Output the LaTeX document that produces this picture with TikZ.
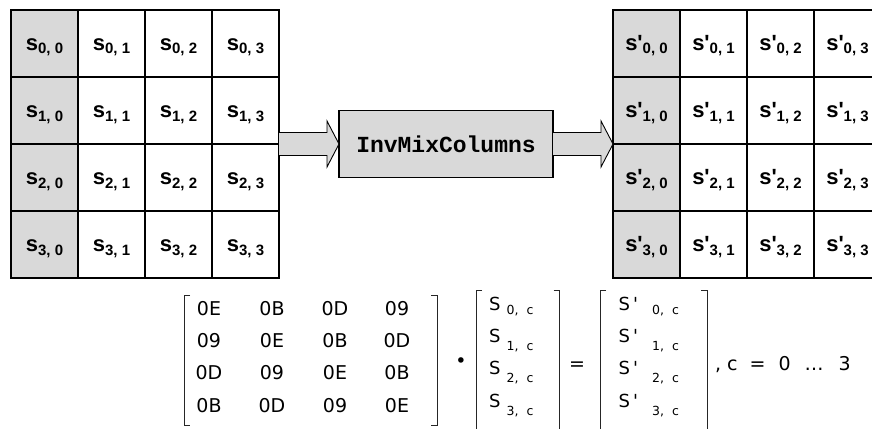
\documentclass[tikz,border=0pt]{standalone}
\usepackage{fontspec}
\usetikzlibrary{calc}
\newfontfamily\cellfont{Liberation Sans}[Ligatures=TeXOff]
\newfontfamily\codefont{Liberation Mono}
\newfontfamily\eqfont{DejaVu Sans}[Ligatures=TeXOff]
\definecolor{keygray}{RGB}{217,217,217}

% state byte: s, optional prime, lowered "row, column" index
\newcommand\stateentry[3]{{\fontsize{22}{22}\selectfont s#1}{\fontsize{15}{15}\selectfont\raisebox{-3.3pt}{#2, #3}}}
% column-vector index "r, c"
\newcommand\colindex[2]{\raisebox{-#2pt}{\fontsize{12.5}{12.5}\selectfont #1,\hspace{8pt}c}}

% wide block arrow from node #1 to node #2 (horizontal)
\newcommand\blockarrow[2]{%
  \fill[arrowfill] let \p1=(#1), \p2=(#2) in
    (\x1,\y1+11.5pt) -- (\x2-12pt,\y1+11.5pt) -- (\x2-12pt,\y1+23pt) -- (\x2,\y1)
    -- (\x2-12pt,\y1-23pt) -- (\x2-12pt,\y1-11.5pt) -- (\x1,\y1-11.5pt) -- cycle;
  \draw[arrowline] let \p1=(#1), \p2=(#2) in
    (\x1,\y1+11.5pt) -- (\x2-12pt,\y1+11.5pt) -- (\x2-12pt,\y1+23pt) -- (\x2,\y1)
    -- (\x2-12pt,\y1-23pt) -- (\x2-12pt,\y1-11.5pt) -- (\x1,\y1-11.5pt);
}

\tikzset{
  cell/.style={draw, line width=1.4pt, minimum width=67pt, minimum height=67pt,
    inner sep=0pt, outer sep=0pt, text height=14.4pt, text depth=0pt,
    font=\cellfont\bfseries},
  col0/.style={cell, fill=keygray},
  col1/.style={cell}, col2/.style={cell}, col3/.style={cell},
  opbox/.style={draw, line width=1.2pt, fill=keygray, minimum width=214pt,
    minimum height=66.5pt, inner sep=0pt, outer sep=0pt,
    font=\codefont\bfseries\fontsize{23}{23}\selectfont},
  arrowfill/.style={fill=keygray},
  arrowline/.style={draw=black, line width=0.9pt, line join=miter},
  bracket/.style={draw=black!85, line width=1pt},
  coef/.style={anchor=base, inner sep=0pt, font=\eqfont\fontsize{19}{19}\selectfont},
  eqtext/.style={anchor=base west, inner sep=0pt, font=\eqfont\fontsize{18}{18}\selectfont},
  eqsign/.style={anchor=base, inner sep=0pt, font=\eqfont\fontsize{19}{19}\selectfont},
}

\begin{document}
\begin{tikzpicture}[x=1pt, y=-1pt]
\useasboundingbox (0,0) rectangle (872,428);
\clip (0,0) rectangle (872,428);
\fill[white] (0,0) rectangle (872,428);

% input state
\foreach \r in {0,...,3}
  \foreach \c in {0,...,3}
    \node[col\c] (L\r\c) at ({44.5+67*\c},{43.5+67*\r}) {\stateentry{}{\r}{\c}};

% output state
\foreach \r in {0,...,3}
  \foreach \c in {0,...,3}
    \node[col\c] (R\r\c) at ({646.5+67*\c},{43.5+67*\r}) {\stateentry{'}{\r}{\c}};

% transformation
\node[opbox] (op) at (446,144) {InvMixColumns};
\blockarrow{L13.south east}{op.west}
\blockarrow{op.east}{R10.south west}

% coefficient matrix
\draw[bracket] (190,295) -| (184,425) -- (190,425);
\draw[bracket] (431,295) -| (437,425) -- (431,425);
\foreach \r/\yb/\ea/\eb/\ec/\ed in {0/315/0E/0B/0D/09, 1/347/09/0E/0B/0D,
                                    2/379/0D/09/0E/0B, 3/412/0B/0D/09/0E} {
  \node[coef] (m\r0) at (209,\yb) {\ea};
  \node[coef] (m\r1) at (272,\yb) {\eb};
  \node[coef] (m\r2) at (335,\yb) {\ec};
  \node[coef] (m\r3) at (397,\yb) {\ed};
}
\node[eqsign] (dot) at (461,367) {•};

% input column
\draw[bracket] (482,290) -| (476,432);
\draw[bracket] (553.5,290) -| (559.5,432);
% output column
\draw[bracket] (606,290) -| (600,432);
\draw[bracket] (701,290) -| (707,432);
\foreach \r/\yb/\dd in {0/310/4, 1/342/8, 2/374/8, 3/407/8} {
  \node[eqtext] (v\r) at (489,\yb) {S\hspace{6pt}\colindex{\r}{\dd}};
  \node[eqtext] (w\r) at (618.5,\yb) {S\hspace{3pt}'\hspace{14pt}\colindex{\r}{\dd}};
}
\node[eqsign] (eq) at (577,370) {=};
\node[eqsign, anchor=base west] (range) at (715,370)
  {,\hspace{6pt}c\hspace{12pt}=\hspace{13pt}0\hspace{14pt}…\hspace{15pt}3};
\end{tikzpicture}
\end{document}
